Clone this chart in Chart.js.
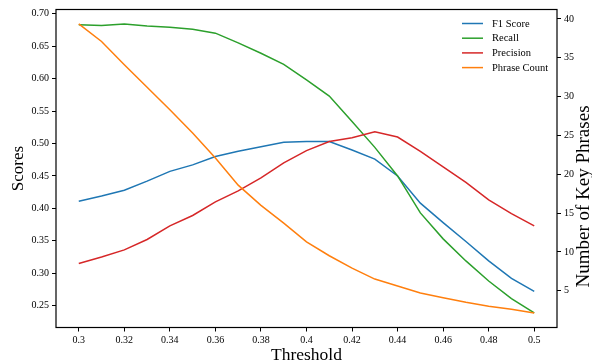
<!DOCTYPE html>
<html>
<head>
<meta charset="utf-8">
<script src="https://cdn.jsdelivr.net/npm/chart.js@4.4.1/dist/chart.umd.min.js"></script>
<style>
  html, body { margin: 0; padding: 0; background: #fff; }
  #c { display: block; }
</style>
</head>
<body>
<canvas id="c" width="592" height="362"></canvas>
<script>
// ---- data ----
const thresholds = [0.30, 0.31, 0.32, 0.33, 0.34, 0.35, 0.36, 0.37, 0.38, 0.39, 0.40,
                    0.41, 0.42, 0.43, 0.44, 0.45, 0.46, 0.47, 0.48, 0.49, 0.50];
const f1Score   = [0.411, 0.419, 0.428, 0.442, 0.457, 0.467, 0.480, 0.488, 0.495, 0.502, 0.503,
                   0.503, 0.490, 0.476, 0.450, 0.408, 0.378, 0.349, 0.319, 0.292, 0.272];
const recall    = [0.683, 0.682, 0.684, 0.681, 0.679, 0.676, 0.670, 0.655, 0.639, 0.622, 0.598,
                   0.573, 0.534, 0.494, 0.450, 0.393, 0.353, 0.319, 0.288, 0.261, 0.239];
const precision = [0.315, 0.325, 0.336, 0.352, 0.373, 0.389, 0.410, 0.427, 0.447, 0.470, 0.489,
                   0.503, 0.509, 0.518, 0.510, 0.488, 0.464, 0.440, 0.413, 0.392, 0.373];
const phraseCount = [39.36, 37.1, 34.1, 31.2, 28.3, 25.3, 22.1, 18.6, 16.0, 13.7, 11.3,
                     9.5, 7.9, 6.5, 5.6, 4.7, 4.1, 3.5, 3.0, 2.6, 2.12];

const xTicks = [0.30, 0.32, 0.34, 0.36, 0.38, 0.40, 0.42, 0.44, 0.46, 0.48, 0.50];
const leftTicks = [0.25, 0.30, 0.35, 0.40, 0.45, 0.50, 0.55, 0.60, 0.65, 0.70];
const rightTicks = [5, 10, 15, 20, 25, 30, 35, 40];

const seriesNames = ['F1 Score', 'Recall', 'Precision', 'Phrase Count'];
const colors = ['#1f77b4', '#2ca02c', '#d62728', '#ff7f0e'];

const FONT = "'Liberation Serif', 'Times New Roman', serif";

const pts = arr => arr.map((v, i) => ({ x: thresholds[i], y: v }));

const framePlugin = {
  id: 'frame',
  afterDatasetsDraw(chart) {
    const { ctx, chartArea: a } = chart;
    ctx.save();
    ctx.strokeStyle = '#000';
    ctx.lineWidth = 1.2;
    ctx.strokeRect(a.left, a.top, a.right - a.left, a.bottom - a.top);
    ctx.restore();
  }
};

const legendPlugin = {
  id: 'mplLegend',
  afterDraw(chart) {
    const { ctx, chartArea: a } = chart;
    ctx.save();
    ctx.font = "10.5px " + FONT;
    ctx.textBaseline = 'middle';
    ctx.textAlign = 'left';
    seriesNames.forEach((name, i) => {
      const y = a.top + 14 + i * 14.7;
      ctx.strokeStyle = colors[i];
      ctx.lineWidth = 1.5;
      ctx.beginPath();
      ctx.moveTo(a.right - 95, y);
      ctx.lineTo(a.right - 74, y);
      ctx.stroke();
      ctx.fillStyle = '#000';
      ctx.fillText(name, a.right - 65, y + 0.5);
    });
    ctx.restore();
  }
};

const rightTitlePlugin = {
  id: 'rightTitle',
  afterDraw(chart) {
    const { ctx, chartArea: a } = chart;
    ctx.save();
    ctx.font = "19px " + FONT;
    ctx.fillStyle = '#000';
    ctx.textAlign = 'center';
    ctx.textBaseline = 'middle';
    ctx.translate(584, (a.top + a.bottom) / 2 + 28);
    ctx.rotate(-Math.PI / 2);
    ctx.fillText('Number of Key Phrases', 0, 0);
    ctx.restore();
  }
};

const tickGrid = {
  display: true,
  drawOnChartArea: false,
  drawTicks: true,
  tickLength: 4,
  tickColor: '#000',
  tickWidth: 1
};

new Chart(document.getElementById('c'), {
  type: 'line',
  data: {
    datasets: [
      { label: seriesNames[3], data: pts(phraseCount), yAxisID: 'y2', borderColor: colors[3], order: 0 },
      { label: seriesNames[2], data: pts(precision), yAxisID: 'y', borderColor: colors[2], order: 1 },
      { label: seriesNames[1], data: pts(recall), yAxisID: 'y', borderColor: colors[1], order: 2 },
      { label: seriesNames[0], data: pts(f1Score), yAxisID: 'y', borderColor: colors[0], order: 3 }
    ]
  },
  options: {
    responsive: false,
    animation: false,
    devicePixelRatio: 1,
    layout: { padding: { top: 9.5, left: 0, right: 0, bottom: 0 } },
    elements: {
      point: { radius: 0, hoverRadius: 0 },
      line: { borderWidth: 1.5, tension: 0, fill: false }
    },
    plugins: { legend: { display: false }, tooltip: { enabled: false } },
    scales: {
      x: {
        type: 'linear',
        min: 0.29, max: 0.51,
        afterBuildTicks: s => { s.ticks = xTicks.map(v => ({ value: v })); },
        afterFit: s => { s.height = 34.5; },
        grid: tickGrid,
        border: { display: false },
        ticks: {
          font: { family: FONT, size: 10 }, color: '#000', padding: 3, maxRotation: 0,
          callback: v => String(+v.toFixed(2))
        },
        title: { display: true, text: 'Threshold', font: { family: FONT, size: 17.5, lineHeight: 0.8 }, color: '#000', padding: { top: 0, bottom: 0 } }
      },
      y: {
        position: 'left',
        min: 0.2164, max: 0.7065,
        afterBuildTicks: s => { s.ticks = leftTicks.map(v => ({ value: v })); },
        afterFit: s => { s.width = 56; },
        grid: tickGrid,
        border: { display: false },
        ticks: { font: { family: FONT, size: 10 }, color: '#000', padding: 3, callback: v => v.toFixed(2) },
        title: { display: true, text: 'Scores', font: { family: FONT, size: 17 }, color: '#000', padding: { top: 8, bottom: 0 } }
      },
      y2: {
        position: 'right',
        min: 0.26, max: 41.22,
        afterBuildTicks: s => { s.ticks = rightTicks.map(v => ({ value: v })); },
        afterFit: s => { s.width = 35; },
        grid: tickGrid,
        border: { display: false },
        ticks: { font: { family: FONT, size: 10 }, color: '#000', padding: 3, callback: v => String(v) }
      }
    }
  },
  plugins: [framePlugin, legendPlugin, rightTitlePlugin]
});
</script>
</body>
</html>
